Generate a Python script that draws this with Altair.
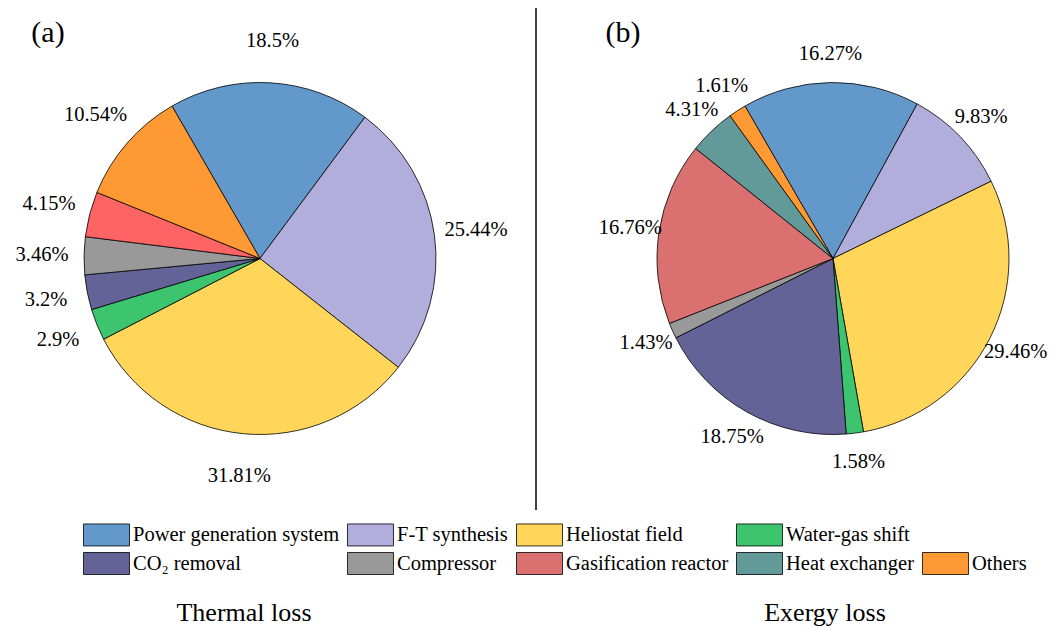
import math
import altair as alt
import pandas as pd

FONT = "Liberation Serif"

categories = ["Power generation system", "F-T synthesis", "Heliostat field", "Water-gas shift",
              "CO\u2082 removal", "Compressor", "Gasification reactor", "Heat exchanger", "Others"]
thermal_loss = [18.5, 25.44, 31.81, 2.9, 3.2, 3.46, 4.15, None, 10.54]
exergy_loss = [16.27, 9.83, 29.46, 1.58, 18.75, 1.43, 16.76, 4.31, 1.61]
colors = ["#6399CA", "#B1AEDC", "#FFD55A", "#3DC46E", "#636398", "#999999", "#DB7070", "#629999", "#FF9933"]
thermal_colors = ["#6399CA", "#B1AEDC", "#FFD55A", "#3DC46E", "#636398", "#999999", "#FF6464", "#629999", "#FF9933"]
panel_tags = ["(a)", "(b)"]
panel_names = ["Thermal loss", "Exergy loss"]

BLANK = " "
legend_domain = categories[:4] + [BLANK] + categories[4:]
legend_range = colors[:4] + ["transparent"] + colors[4:]


def frame(values):
    rows = [{"cat": c, "idx": i, "value": v, "label": f"{v:g}%"}
            for i, (c, v) in enumerate(zip(categories, values)) if v is not None]
    return pd.DataFrame(rows)


left_df = frame(thermal_loss)
right_df = frame(exergy_loss)

a0 = 2 * math.pi - math.pi / 6
theta = alt.Theta("value:Q", stack=True, scale=alt.Scale(range=[a0, a0 + 2 * math.pi]))
order = alt.Order("idx:Q")

LX, RX, CY = 252, 825, 250.5

left_arc = alt.Chart(left_df).mark_arc(radius=176, stroke="black", strokeWidth=0.8, x=LX, y=CY).encode(
    theta=theta, order=order,
    color=alt.Color("cat:N", scale=alt.Scale(domain=categories, range=thermal_colors), legend=None),
)
left_text = alt.Chart(left_df).mark_text(radius=218, font=FONT, fontSize=20.5, color="black",
                                         x=LX, y=CY, baseline="middle").encode(
    theta=theta, order=order, text="label:N")

legend = alt.Legend(
    title=None, orient="none", legendX=87, legendY=515, columns=5, direction="horizontal",
    symbolType="M-2.09,-1H2.09V1H-2.09Z", symbolSize=484,
    symbolStrokeColor={"expr": "datum.value === ' ' ? 'transparent' : 'black'"},
    symbolStrokeWidth=0.8, symbolOpacity=1,
    labelFont=FONT, labelFontSize=20.5, labelColor="black", labelLimit=500,
    labelOffset=15, columnPadding=5, rowPadding=2, padding=0,
)
right_arc = alt.Chart(right_df).mark_arc(radius=176, stroke="black", strokeWidth=0.8, x=RX, y=CY).encode(
    theta=theta, order=order,
    color=alt.Color("cat:N", scale=alt.Scale(domain=legend_domain, range=legend_range), legend=legend),
)
right_text = alt.Chart(right_df).mark_text(radius=205, font=FONT, fontSize=20.5, color="black",
                                           x=RX, y=CY, baseline="middle").encode(
    theta=theta, order=order, text="label:N")

one = pd.DataFrame({"k": [0]})
divider = alt.Chart(one).mark_rule(color="black", strokeWidth=1.5).encode(
    x=alt.value(528), y=alt.value(0), y2=alt.value(502))

tag_a = alt.Chart(pd.DataFrame({"t": [panel_tags[0]]})).mark_text(
    font=FONT, fontSize=30, x=40, y=34, baseline="alphabetic", color="black").encode(text="t:N")
tag_b = alt.Chart(pd.DataFrame({"t": [panel_tags[1]]})).mark_text(
    font=FONT, fontSize=30, x=615, y=34, baseline="alphabetic", color="black").encode(text="t:N")
name_a = alt.Chart(pd.DataFrame({"t": [panel_names[0]]})).mark_text(
    font=FONT, fontSize=26, x=236, y=613, baseline="alphabetic", color="black").encode(text="t:N")
name_b = alt.Chart(pd.DataFrame({"t": [panel_names[1]]})).mark_text(
    font=FONT, fontSize=26, x=817, y=613, baseline="alphabetic", color="black").encode(text="t:N")

chart = alt.layer(
    left_arc, left_text, right_arc, right_text, divider, tag_a, tag_b, name_a, name_b
).resolve_scale(color="independent").properties(
    width=1039, height=618, padding=0, autosize=alt.AutoSizeParams(type="none")
).configure_view(stroke=None)

chart.save("out.html", embed_options={"renderer": "svg", "actions": False})
